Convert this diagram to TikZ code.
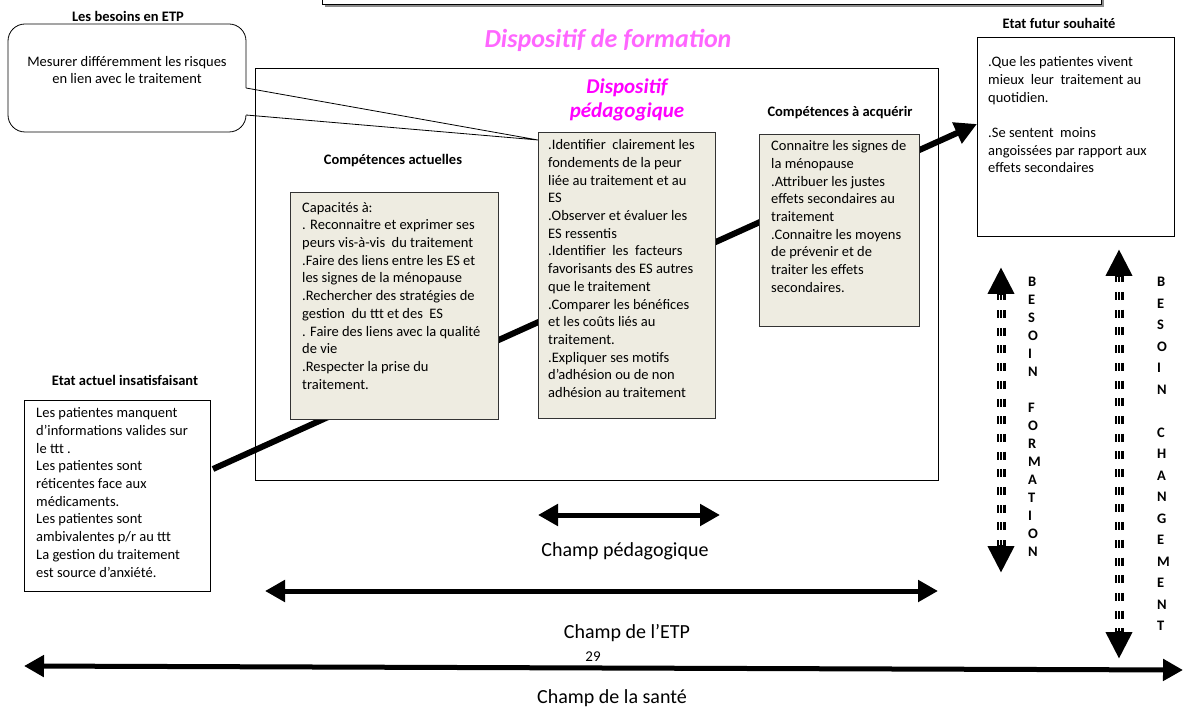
\documentclass[tikz,border=0pt]{standalone}
\usepackage{fontspec}
\setmainfont{Carlito}
\usetikzlibrary{arrows.meta}

\definecolor{fond}{RGB}{238,236,225}
\definecolor{rose}{RGB}{255,102,255}
\definecolor{fuchsia}{RGB}{255,0,255}

\tikzset{
  etiquette/.style={font=\bfseries\fontsize{14.5}{17.7}\selectfont, inner sep=0pt},
  texte/.style={anchor=north west, align=left, inner sep=0pt, font=\fontsize{14.5}{17.7}\selectfont},
  boite/.style={draw=black!80, line width=0.8pt, fill=fond, anchor=north west, inner sep=0pt},
  cadre/.style={draw=black, line width=0.8pt, fill=white, anchor=north west, inner sep=0pt},
  champ/.style={font=\fontsize{20}{24}\selectfont, inner sep=0pt},
  fleche/.style={line width=5pt, {Triangle[length=20pt,width=21pt]}-{Triangle[length=20pt,width=21pt]}},
  grande/.style={line width=6pt, -{Triangle[length=22pt,width=22pt]}},
  besoin/.style={line width=9pt, dash pattern=on 8pt off 9.7pt, {Triangle[length=27pt,width=25pt]}-{Triangle[length=27pt,width=25pt]}},
  rayure/.style={white, line width=1.3pt, shorten <=28pt, shorten >=28pt},
  lettres/.style={anchor=north west, align=left, inner sep=0pt}
}

\begin{document}
\begin{tikzpicture}[x=1pt, y=-1pt]
    \useasboundingbox (0,0) rectangle (1185,708);

    % bord du cadre du haut
    \fill[black!45] (325,-10) rectangle (1104,7.5);
    \draw[line width=1pt, fill=white] (322,-10) rectangle (1101,4.5);

    \node[draw, line width=0.8pt, anchor=north west, minimum width=683pt, minimum height=412pt] (formation) at (255,68) {};
    \node[font=\bfseries\itshape\fontsize{26}{30}\selectfont, text=rose, inner sep=0pt] (titreformation) at (608,40) {Dispositif de formation};
    \node[font=\bfseries\itshape\fontsize{21}{24}\selectfont, text=fuchsia, align=center, inner sep=0pt] (titrepeda) at (627,100) {Dispositif\\pédagogique};

    \coordinate (depart) at (213,469);
    \coordinate (arrivee) at (977,124);
    \draw[grande] (depart) -- (arrivee);

    \node[etiquette] (lbesoins) at (128,16) {Les besoins en ETP};
    \node[etiquette] (lactuelles) at (393,161) {Compétences actuelles};
    \node[etiquette] (lacquerir) at (840,113) {Compétences à acquérir};
    \node[etiquette] (lfutur) at (1059,23) {Etat futur souhaité};
    \node[etiquette] (lactuel) at (125,380) {Etat actuel insatisfaisant};

    % bulle
    \node[draw, line width=0.8pt, rounded corners=17pt, minimum width=238pt, minimum height=108pt] (besoins) at (127,78) {};
    \node[font=\fontsize{14.5}{17.7}\selectfont, align=center, inner sep=0pt] (besoinstxt) at (127,70) {Mesurer différemment les risques\\en lien avec le traitement};
    \coordinate (bec1) at (246,88);
    \coordinate (bec2) at (246,115);
    \coordinate (pointe) at (538,140);
    \fill[white] ([xshift=-1.5pt]bec1) rectangle ([xshift=1.5pt]bec2);
    \draw[line width=0.8pt] (bec1) -- (pointe) -- (bec2);

    \node[boite, minimum width=208pt, minimum height=227pt] (capacites) at (290,192) {};
    \node[texte] (capacitestxt) at (302,202) {Capacités à:\\
      . Reconnaitre et exprimer ses\\
      peurs vis-à-vis\ \ du traitement\\
      .Faire des liens entre les ES et\\
      les signes de la ménopause\\
      .Rechercher des stratégies de\\
      gestion\ \ du ttt et des\ \ ES\\
      . Faire des liens avec la qualité\\
      de vie\\
      .Respecter la prise du\\
      traitement.};

    \node[boite, minimum width=177pt, minimum height=286pt] (pedagogie) at (538,132) {};
    \node[texte] (pedagogietxt) at (548,139.5) {.Identifier\ \ clairement les\\
      fondements de la peur\\
      liée au traitement et au\\
      ES\\
      .Observer et évaluer les\\
      ES ressentis\\
      .Identifier\ \ les\ \ facteurs\\
      favorisants des ES autres\\
      que le traitement\\
      .Comparer les bénéfices\\
      et les coûts liés au\\
      traitement.\\
      .Expliquer ses motifs\\
      d’adhésion ou de non\\
      adhésion au traitement};

    \node[boite, minimum width=160pt, minimum height=192pt] (acquerir) at (759,134) {};
    \node[texte] (acquerirtxt) at (771,140.5) {Connaitre les signes de\\
      la ménopause\\
      .Attribuer les justes\\
      effets secondaires au\\
      traitement\\
      .Connaitre les moyens\\
      de prévenir et de\\
      traiter les effets\\
      secondaires.};

    \node[cadre, minimum width=197pt, minimum height=199pt] (futur) at (977,37) {};
    \node[texte] (futurtxt) at (988,56.5) {.Que les patientes vivent\\
      mieux\ \ leur\ \ traitement au\\
      quotidien.\\[17.7pt]
      .Se sentent\ \ moins\\
      angoissées par rapport aux\\
      effets secondaires};

    \node[cadre, minimum width=186pt, minimum height=191pt] (actuel) at (24,400) {};
    \node[texte] (actueltxt) at (36,407.5) {Les patientes manquent\\
      d’informations valides sur\\
      le ttt .\\
      Les patientes sont\\
      réticentes face aux\\
      médicaments.\\
      Les patientes sont\\
      ambivalentes p/r au ttt\\
      La gestion du traitement\\
      est source d’anxiété.};

    % champs
    \coordinate (peda1) at (538,515);
    \coordinate (peda2) at (720,515);
    \draw[fleche] (peda1) -- (peda2);
    \node[champ] (champpeda) at (625,551) {Champ pédagogique};

    \coordinate (etp1) at (265,591);
    \coordinate (etp2) at (938,591);
    \draw[fleche] (etp1) -- (etp2);
    \node[champ] (champetp) at (627,633) {Champ de l’ETP};

    \node[font=\fontsize{15}{18}\selectfont, inner sep=0pt] (page) at (593,657) {29};

    \coordinate (sante1) at (24,666);
    \coordinate (sante2) at (1183,670);
    \draw[fleche] (sante1) -- (sante2);
    \node[champ] (champsante) at (612,698) {Champ de la santé};

    % besoins
    \coordinate (bf1) at (1001,267);
    \coordinate (bf2) at (1001,573);
    \draw[besoin] (bf1) -- (bf2);
    \draw[rayure, transform canvas={xshift=1.7pt}] (bf1) -- (bf2);
    \draw[rayure, transform canvas={xshift=-1.7pt}] (bf1) -- (bf2);
    \node[lettres, font=\bfseries\fontsize{14.5}{18}\selectfont] (lformation) at (1028,277) {B\\E\\S\\O\\I\\N\\[18pt]F\\O\\R\\M\\A\\T\\I\\O\\N};

    \coordinate (bc1) at (1119,249);
    \coordinate (bc2) at (1119,659);
    \draw[besoin] (bc1) -- (bc2);
    \draw[rayure, transform canvas={xshift=1.7pt}] (bc1) -- (bc2);
    \draw[rayure, transform canvas={xshift=-1.7pt}] (bc1) -- (bc2);
    \node[lettres, font=\bfseries\fontsize{14.5}{21.5}\selectfont] (lchangement) at (1157,277) {B\\E\\S\\O\\I\\N\\[21.5pt]C\\H\\A\\N\\G\\E\\M\\E\\N\\T};

\end{tikzpicture}
\end{document}
